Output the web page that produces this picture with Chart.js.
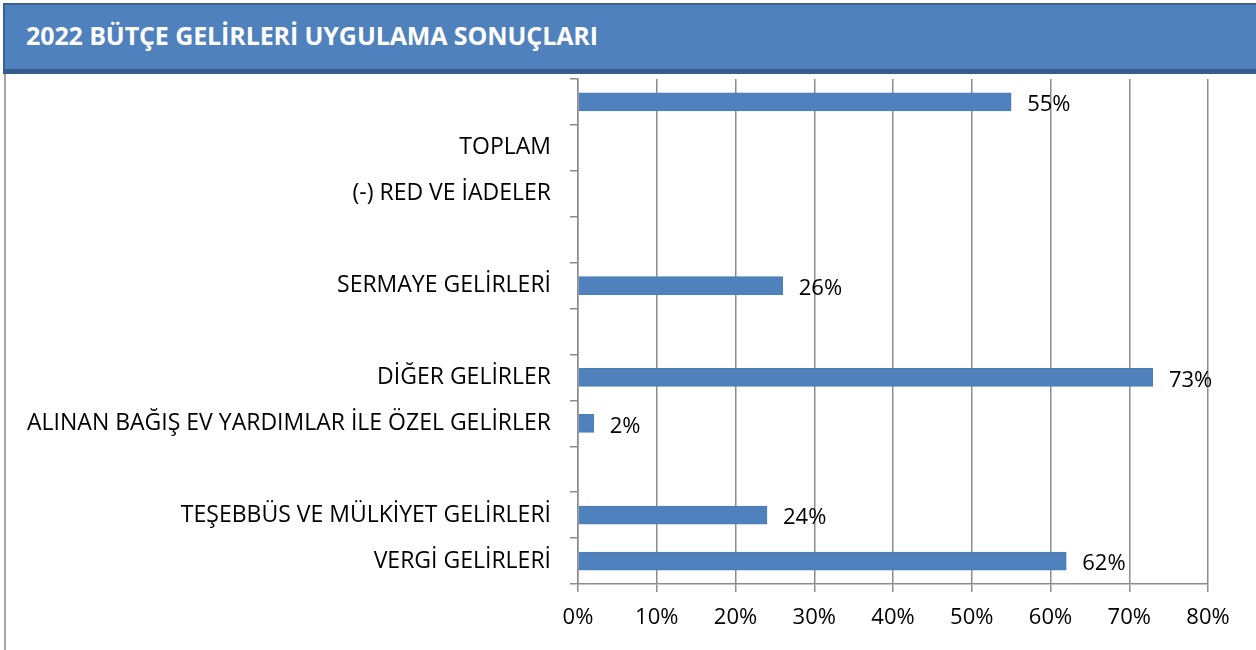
<!DOCTYPE html>
<html lang="tr">
<head>
  <meta charset="UTF-8" />
  <title>2022 Bütçe Gelirleri Uygulama Sonuçları</title>
  <script src="https://cdn.jsdelivr.net/npm/chart.js"></script>
  <style>
    html, body { margin: 0; padding: 0; background: #fff; }
    body { width: 1256px; height: 650px; position: relative; overflow: hidden; }
    #cerceve {
      position: absolute; left: 4px; top: 70px; width: 1260px; height: 600px;
      border-left: 2px solid #a6a6a6;
    }
    #baslik {
      position: absolute; left: 3px; top: 3px; width: 1253px; height: 64px;
      background: #4F81BD;
      border-top: 2px solid #3B6292; border-left: 2px solid #3B6292;
      border-bottom: 5px solid #385D8A;
      box-sizing: content-box;
      z-index: 2;
    }
    #baslik span {
      position: absolute; left: 21px; top: 13px;
      font-family: "Open Sans", sans-serif; font-weight: bold; font-size: 25px;
      color: #fff; letter-spacing: -0.1px;
    }
    #kutu { position: absolute; left: 0; top: 0; width: 1256px; height: 650px; z-index: 1; }
  </style>
</head>
<body>
  <div id="cerceve"></div>
  <div id="baslik"><span>2022 BÜTÇE GELİRLERİ UYGULAMA SONUÇLARI</span></div>
  <div id="kutu"><canvas id="grafik"></canvas></div>

<script>
  // kategoriler (ustten alta)
  const kategoriler = [
    "",
    "TOPLAM",
    "(-) RED VE İADELER",
    "",
    "SERMAYE GELİRLERİ",
    "",
    "DİĞER GELİRLER",
    "ALINAN BAĞIŞ EV YARDIMLAR İLE ÖZEL GELİRLER",
    "",
    "TEŞEBBÜS VE MÜLKİYET GELİRLERİ",
    "VERGİ GELİRLERİ"
  ];
  // gerceklesme oranlari (%)
  const oranlar = [55, null, null, null, 26, null, 73, 2, null, 24, 62];
  const eksenEtiketleri = ["0%", "10%", "20%", "30%", "40%", "50%", "60%", "70%", "80%"];

  const yazi = "'Open Sans', sans-serif";
  const gri = "#8c8c8c";

  // bar ucuna yuzde yazan eklenti
  const degerYazisi = {
    id: "degerYazisi",
    afterDatasetsDraw(chart) {
      const ctx = chart.ctx;
      const meta = chart.getDatasetMeta(0);
      ctx.save();
      ctx.font = "22px " + yazi;
      ctx.fillStyle = "#000";
      ctx.textAlign = "left";
      ctx.textBaseline = "middle";
      meta.data.forEach((bar, i) => {
        const v = oranlar[i];
        if (v === null) return;
        ctx.fillText(v + "%", bar.x + 16, bar.y + 3);
      });
      ctx.restore();
    }
  };

  const ctx = document.getElementById("grafik").getContext("2d");

  new Chart(ctx, {
    type: "bar",
    data: {
      labels: kategoriler,
      datasets: [{
        label: "Oran",
        data: oranlar,
        backgroundColor: "#4F81BD",
        borderColor: "#4A7EBB",
        borderWidth: 1,
        barThickness: 18
      }]
    },
    options: {
      indexAxis: "y",
      responsive: true,
      maintainAspectRatio: false,
      animation: false,
      layout: { padding: { top: 79, right: 48, left: 0, bottom: 0 } },
      scales: {
        x: {
          min: 0,
          max: 80,
          ticks: {
            stepSize: 10,
            color: "#000",
            padding: 13,
            font: { family: yazi, size: 22 },
            callback: (v, i) => eksenEtiketleri[i]
          },
          grid: { color: gri, lineWidth: 1.5, tickLength: 8, drawTicks: true },
          border: { color: gri, width: 1.5 },
          afterFit(s) { s.height = 66; }
        },
        y: {
          ticks: {
            color: "#000",
            padding: 19,
            autoSkip: false,
            font: { family: yazi, size: 23 }
          },
          grid: { drawOnChartArea: false, color: gri, lineWidth: 1.5, tickLength: 8 },
          border: { color: gri, width: 1.5 },
          afterFit(s) { s.width = 578; }
        }
      },
      plugins: {
        legend: { display: false },
        tooltip: { enabled: false }
      }
    },
    plugins: [degerYazisi]
  });
</script>
</body>
</html>
